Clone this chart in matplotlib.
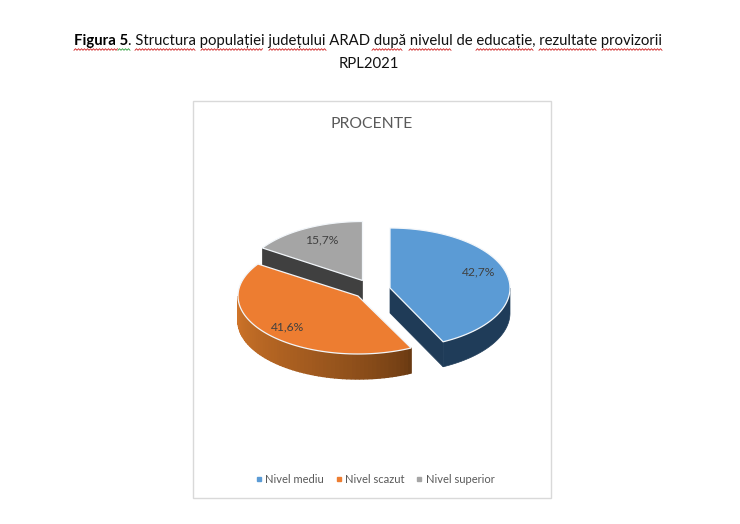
"""
figura 5 - structura populatiei judetului Arad, 3d pie drawn by hand
"""

import numpy as np
import matplotlib.pyplot as plt
from matplotlib.colors import to_rgb
from matplotlib.lines import Line2D
from matplotlib.patches import Polygon, Rectangle

plt.rcParams['font.family'] = ['Lato', 'DejaVu Sans']

categories = ['Nivel mediu', 'Nivel scazut', 'Nivel superior']
values = [42.7, 41.6, 15.7]
value_labels = ['42,7%', '41,6%', '15,7%']
chart_title = 'PROCENTE'
title_bold = 'Figura 5'
title_rest = '. Structura populației județului ARAD după nivelul de educație, rezultate provizorii'
title_line2 = 'RPL2021'

BLUE = '#5b9bd5'
ORANGE = '#ed7d31'
GREY = '#a5a5a5'
TOP_COLORS = [BLUE, ORANGE, GREY]
TEXT = '#595959'

# slice centres after explosion, pixels
CENTERS = [(390, 288), (358, 296), (362.5, 280.5)]
RADII = [(120, 60), (120, 58), (120, 59)]
DEPTH = 25
LABEL_POS = [(479, 272), (288, 327), (322, 240)]

# word spell-check squiggles under the caption
RED_WAVES = [(74, 118), (135, 195), (201, 263), (269, 326), (372, 403), (409, 451),
             (476, 533), (539, 596), (602, 662)]
GREEN_WAVES = [(118, 130)]


def arc(i, a0, a1, n=80):
    # clockwise from 12 o'clock, degrees
    t = np.radians(np.linspace(a0, a1, n))
    cx, cy = CENTERS[i]
    rx, ry = RADII[i]
    return np.column_stack([cx + rx * np.sin(t), cy - ry * np.cos(t)])


def draw_wall(ax, pts, color, z, lw=0.5):
    poly = np.vstack([pts, (pts + [0, DEPTH])[::-1]])
    ax.add_patch(Polygon(poly, closed=True, fc=color, ec=color, lw=lw, zorder=z))


def wavy(ax, x0, x1, y, color):
    xs = np.arange(x0, x1 + 0.1, 1.5)
    ys = y + 0.8 * (-1.0) ** np.arange(len(xs))
    ax.plot(xs, ys, color=color, lw=0.6, zorder=6)


fig = plt.figure(figsize=(7.4, 5.24), dpi=100, facecolor='white')
ax = fig.add_axes([0, 0, 1, 1])
ax.set_xlim(0, 740)
ax.set_ylim(524, 0)
ax.axis('off')

ax.add_patch(Rectangle((193, 101), 358, 397, fc='white', ec='#d9d9d9', lw=1.0, zorder=0))

# caption
t1 = ax.text(74, 40.5, title_bold, fontsize=10.7, fontweight='bold', color='black', va='center', ha='left')
fig.canvas.draw()
x_end = ax.transData.inverted().transform(t1.get_window_extent().get_points())[1, 0]
ax.text(x_end, 40.5, title_rest, fontsize=10.7, color='#111111', va='center', ha='left')
ax.text(369, 64.5, title_line2, fontsize=10.7, color='#111111', va='center', ha='center')

for x0, x1 in RED_WAVES:
    wavy(ax, x0, x1, 49.5, '#d02020')
for x0, x1 in GREEN_WAVES:
    wavy(ax, x0, x1, 49.5, '#2e9e3a')

ax.text(371.5, 124, chart_title, fontsize=11.3, color=TEXT, ha='center', va='center')

# cumulated clock angles of the slices
edges = np.concatenate([[0], np.cumsum(values)]) * 3.6

# back walls first
grey_edge = np.array([arc(2, edges[2], edges[2], 1)[0], CENTERS[2]])
draw_wall(ax, grey_edge, '#404040', 2)
blue_edge = np.array([CENTERS[0], arc(0, edges[1], edges[1], 1)[0]])
draw_wall(ax, blue_edge, '#1f3b57', 2)
draw_wall(ax, arc(0, 90, edges[1]), '#1f3c59', 2)

# orange outer wall with the gradient
seg_angles = np.linspace(edges[1], 270, 60)
dark = np.array(to_rgb('#693a12'))
light = np.array(to_rgb('#cf7429'))
for k in range(len(seg_angles) - 1):
    f = (k / (len(seg_angles) - 2)) ** 0.7
    draw_wall(ax, arc(1, seg_angles[k], seg_angles[k + 1], 4), tuple(dark + (light - dark) * f), 2, lw=1.0)

# top faces
for i in range(3):
    pts = np.vstack([[CENTERS[i]], arc(i, edges[i], edges[i + 1])])
    ax.add_patch(Polygon(pts, closed=True, fc=TOP_COLORS[i], ec='#f2f6fa', lw=0.9, zorder=3 + (i == 1)))

for lab, pos in zip(value_labels, LABEL_POS):
    ax.text(pos[0], pos[1], lab, fontsize=8.7, color='#404040', ha='center', va='center', zorder=6)

handles = [Line2D([], [], ls='', marker='s', ms=2.8, color=c) for c in TOP_COLORS]
ax.legend(handles, categories, loc='center', bbox_to_anchor=(375, 479.5), bbox_transform=ax.transData,
          ncol=3, frameon=False, fontsize=8, labelcolor=TEXT, handlelength=0.6, handletextpad=0.3,
          columnspacing=1.0, borderpad=0)

fig.savefig('out.png', dpi=100)
